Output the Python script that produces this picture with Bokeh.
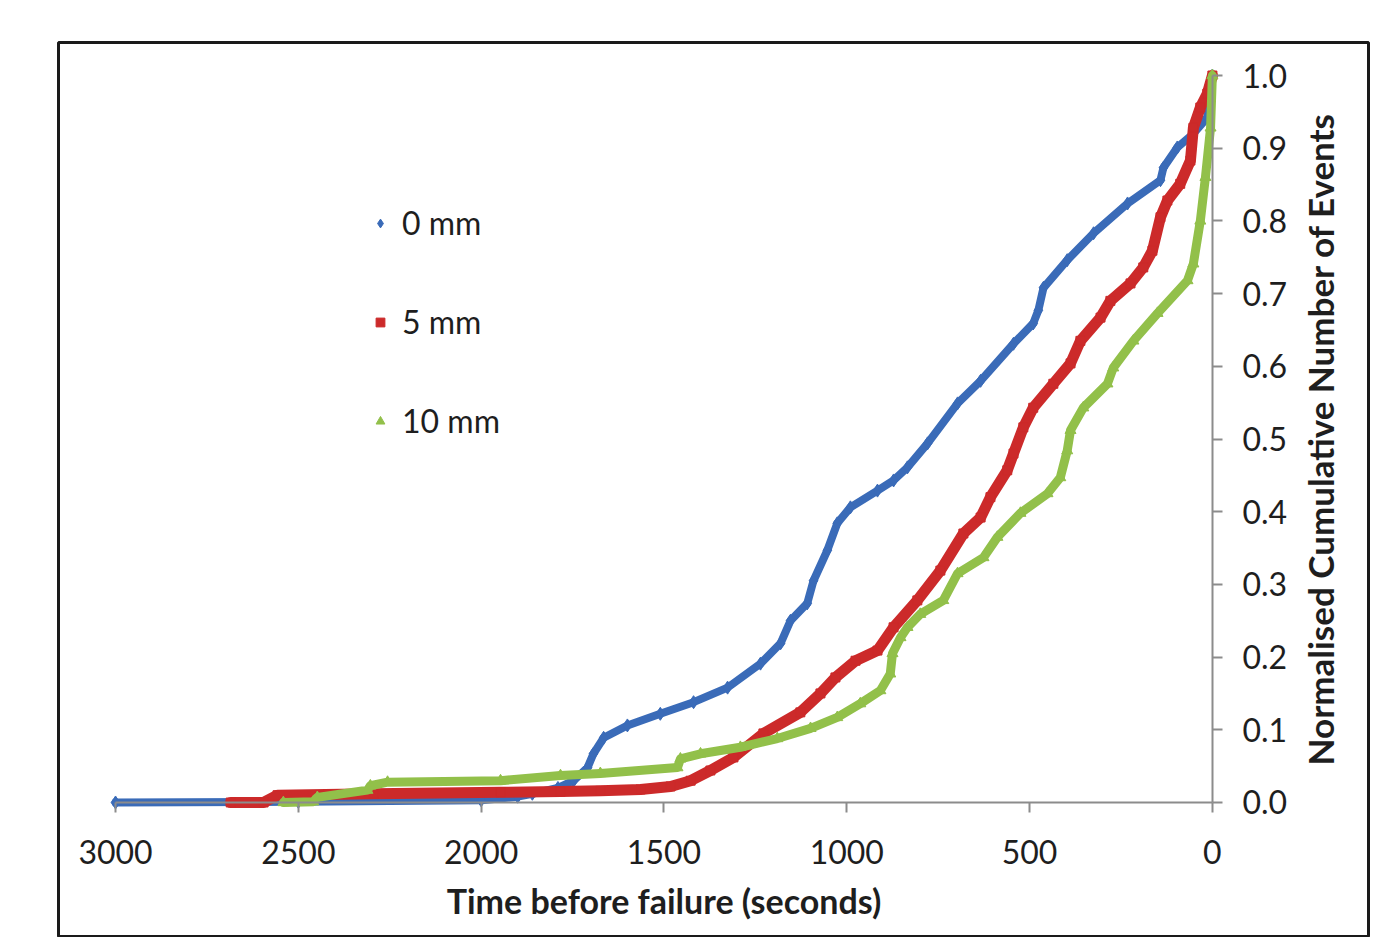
import math
from bokeh.plotting import figure
from bokeh.models import (Range1d, FixedTicker, PrintfTickFormatter, LinearAxis,
                          Legend, LegendItem, ColumnDataSource, Label)
from bokeh.embed import file_html
from bokeh.resources import INLINE

# ---- data (time before failure in seconds, normalised cumulative events) ----
t_0mm = [3000, 2500, 2000, 1900, 1860, 1790, 1747, 1709, 1693, 1665, 1600, 1510, 1419, 1326,
         1236, 1181, 1154, 1108, 1091, 1053, 1026, 990, 916, 872, 834, 779, 697, 634, 544,
         490, 476, 462, 397, 325, 232, 142, 134, 96, 52, 14, 0]
y_0mm = [0.0, 0.001, 0.003, 0.008, 0.012, 0.02, 0.03, 0.048, 0.067, 0.089, 0.106, 0.122,
         0.138, 0.158, 0.191, 0.219, 0.25, 0.274, 0.305, 0.347, 0.384, 0.406, 0.429, 0.443,
         0.461, 0.494, 0.549, 0.58, 0.631, 0.659, 0.677, 0.708, 0.746, 0.783, 0.824, 0.856,
         0.873, 0.901, 0.92, 0.942, 1.0]

t_5mm = [2685, 2595, 2557, 2294, 1947, 1783, 1674, 1564, 1482, 1427, 1373, 1310, 1228, 1127,
         1072, 1031, 976, 916, 872, 807, 744, 681, 634, 607, 561, 544, 517, 490, 435, 388,
         361, 306, 279, 224, 189, 164, 142, 123, 88, 60, 52, 33, 14, 0]
y_5mm = [0.0, 0.0, 0.01, 0.012, 0.014, 0.015, 0.016, 0.018, 0.022, 0.03, 0.044, 0.062, 0.095,
         0.124, 0.15, 0.172, 0.195, 0.209, 0.241, 0.278, 0.319, 0.37, 0.392, 0.42, 0.457,
         0.48, 0.516, 0.543, 0.576, 0.604, 0.635, 0.667, 0.69, 0.714, 0.736, 0.759, 0.805,
         0.828, 0.851, 0.883, 0.928, 0.956, 0.975, 1.0]

t_10mm = [2541, 2459, 2448, 2311, 2303, 2256, 1947, 1783, 1674, 1463, 1455, 1400, 1291, 1190,
          1099, 1026, 963, 908, 881, 875, 853, 834, 799, 736, 697, 626, 588, 525, 451, 416,
          397, 388, 353, 287, 271, 216, 150, 68, 52, 33, 19, 5, 0]
y_10mm = [0.0, 0.001, 0.007, 0.017, 0.023, 0.028, 0.03, 0.037, 0.04, 0.048, 0.06, 0.067,
          0.076, 0.088, 0.102, 0.117, 0.136, 0.154, 0.177, 0.205, 0.227, 0.241, 0.259, 0.278,
          0.315, 0.337, 0.365, 0.398, 0.425, 0.447, 0.484, 0.512, 0.543, 0.576, 0.598, 0.635,
          0.673, 0.718, 0.741, 0.8, 0.86, 0.928, 1.0]

series_labels = ["0 mm", "5 mm", "10 mm"]
x_ticks = [0, 500, 1000, 1500, 2000, 2500, 3000]
y_ticks = [0.0, 0.1, 0.2, 0.3, 0.4, 0.5, 0.6, 0.7, 0.8, 0.9, 1.0]
x_title = "Time before failure (seconds)"
y_title = "Normalised Cumulative Number of Events"

FONT = "Lato"
TXT = "#1e1e1e"
AXC = "#8c8c8c"

p = figure(width=1370, height=937,
           x_range=Range1d(3156, -427), y_range=Range1d(-0.1857, 1.0454),
           output_backend="svg", toolbar_location=None,
           x_axis_location=None, y_axis_location=None,
           min_border_left=58, min_border_right=2, min_border_top=42, min_border_bottom=0)
p.grid.visible = False
p.background_fill_color = "white"
p.border_fill_color = "white"
p.outline_line_color = "#1a1a1a"
p.outline_line_width = 3

xaxis = LinearAxis(fixed_location=0, bounds=(0, 3000), ticker=FixedTicker(ticks=x_ticks),
                   axis_label=x_title)
yaxis = LinearAxis(fixed_location=0, bounds=(0, 1), ticker=FixedTicker(ticks=y_ticks),
                   formatter=PrintfTickFormatter(format="%.1f"))
for ax in (xaxis, yaxis):
    ax.axis_line_color = AXC
    ax.axis_line_width = 2
    ax.major_tick_line_color = AXC
    ax.major_tick_line_width = 2
    ax.major_tick_in = 0
    ax.major_tick_out = 10
    ax.minor_tick_line_color = None
    ax.major_label_text_font = FONT
    ax.major_label_text_font_size = "32px"
    ax.major_label_text_color = TXT
xaxis.axis_label_text_font = FONT
xaxis.axis_label_text_font_style = "bold"
xaxis.axis_label_text_color = TXT
xaxis.axis_label_text_font_size = "34px"
xaxis.major_label_standoff = 28
xaxis.axis_label_standoff = 12
yaxis.major_label_standoff = 20
p.add_layout(xaxis, "below")
p.add_layout(yaxis, "right")

# y-axis title, reading bottom-to-top, just right of the tick labels
p.add_layout(Label(x=-295, y=0.5, text=y_title, angle=math.pi / 2,
                   text_align="center", text_baseline="middle",
                   text_font=FONT, text_font_size="35px", text_font_style="bold",
                   text_color=TXT))

colors = ["#3a6bb8", "#cc2a2a", "#92c04a"]
widths = [8, 11, 9]
markers = ["diamond", "square", "triangle"]
msizes = [13, 9, 11]
data = [(t_0mm, y_0mm), (t_5mm, y_5mm), (t_10mm, y_10mm)]

items = []
for (tx, ty), c, w, m, ms, lab in zip(data, colors, widths, markers, msizes, series_labels):
    src = ColumnDataSource(dict(t=tx, y=ty))
    p.line("t", "y", source=src, line_color=c, line_width=w, line_join="round", line_cap="round")
    r = p.scatter("t", "y", source=src, marker=m, size=ms, fill_color=c, line_color=c)
    items.append(LegendItem(label=lab, renderers=[r]))

legend = Legend(items=items, location=(311, 497), orientation="vertical",
                label_text_font=FONT, label_text_font_size="32px", label_text_color=TXT,
                glyph_width=22, glyph_height=22, label_standoff=11, label_height=38,
                spacing=60, padding=0, margin=0,
                background_fill_alpha=0, border_line_color=None)
p.add_layout(legend)

open("out.html", "w").write(file_html(p, INLINE))
